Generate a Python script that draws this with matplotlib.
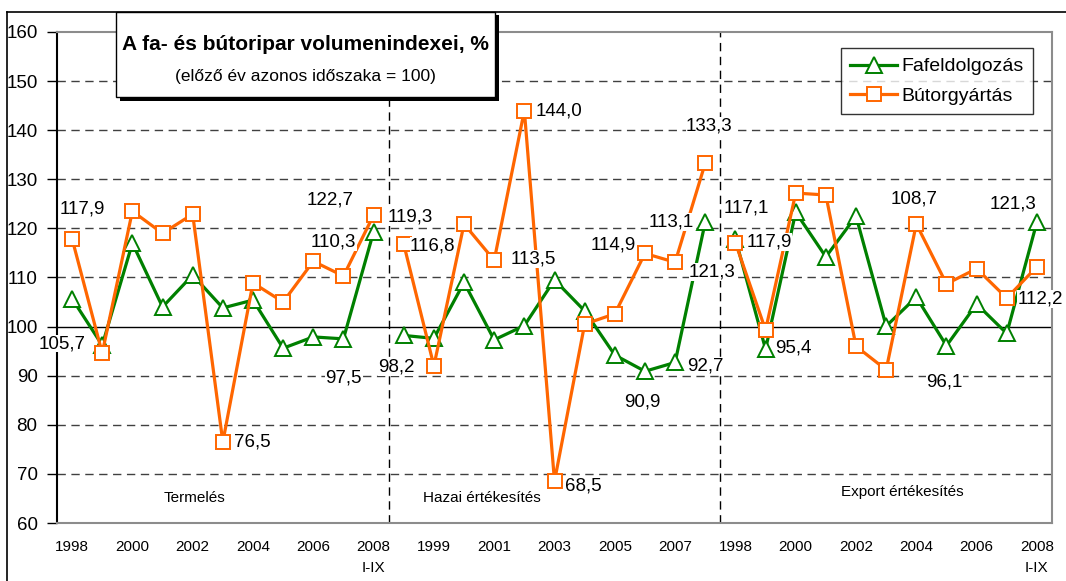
import matplotlib
matplotlib.use('Agg')
import matplotlib.pyplot as plt
from matplotlib.patches import Rectangle

plt.rcParams['font.family'] = ['Liberation Sans', 'DejaVu Sans']

# Data: three blocks (Termelés, Hazai, Export), 1998 .. 2008 I-IX each
fafeld_termeles = [105.7, 96.2, 117.0, 104.0, 110.5, 103.8, 105.4, 95.6, 97.9, 97.5, 119.3]
butor_termeles = [117.9, 94.6, 123.5, 119.0, 122.9, 76.5, 108.9, 105.0, 113.3, 110.3, 122.7]
fafeld_hazai = [98.2, 97.6, 109.0, 97.3, 100.2, 109.5, 103.2, 94.2, 90.9, 92.7, 121.3]
butor_hazai = [116.8, 92.0, 120.9, 113.5, 144.0, 68.5, 100.5, 102.6, 114.9, 113.1, 133.3]
fafeld_export = [117.9, 95.4, 123.3, 114.2, 122.5, 100.1, 106.0, 96.1, 104.6, 98.6, 121.3]
butor_export = [117.1, 99.3, 127.2, 126.8, 96.0, 91.2, 120.9, 108.7, 111.8, 105.8, 112.2]

group_names = ['Termelés', 'Hazai értékesítés', 'Export értékesítés']
tick_labels = ['1998', '2000', '2002', '2004', '2006', '2008\nI-IX',
               '1999', '2001', '2003', '2005', '2007',
               '1998', '2000', '2002', '2004', '2006', '2008\nI-IX']

green = '#008000'
orange = '#FF6600'

fafeld = fafeld_termeles + fafeld_hazai + fafeld_export
butor = butor_termeles + butor_hazai + butor_export
n = len(fafeld_termeles)

fig = plt.figure(figsize=(10.66, 5.81), dpi=100)
ax = fig.add_axes([57 / 1066, 58 / 581, 995 / 1066, 491 / 581])

# outer frame of the chart
fig.add_artist(plt.Line2D([7 / 1066, 7 / 1066], [0, 1 - 12 / 581], color='black', lw=1.2))
fig.add_artist(plt.Line2D([7 / 1066, 1], [1 - 12 / 581, 1 - 12 / 581], color='black', lw=1.2))

for g in range(3):
    xs = list(range(g * n, g * n + n))
    lf, = ax.plot(xs, fafeld[g * n:(g + 1) * n], color=green, lw=2.3, marker='^',
                  markersize=11, markerfacecolor='white', markeredgecolor=green,
                  markeredgewidth=1.4, zorder=3)
    lb, = ax.plot(xs, butor[g * n:(g + 1) * n], color=orange, lw=2.3, marker='s',
                  markersize=10, markerfacecolor='white', markeredgecolor=orange,
                  markeredgewidth=1.4, zorder=4)
    if g == 0:
        lf.set_label('Fafeldolgozás')
        lb.set_label('Bútorgyártás')

# data labels: (series, index, dx px, dy px downwards)
labels = [
    ('b', 0, 10, -30), ('f', 0, -10, 45), ('b', 5, 29, 0), ('b', 10, -43, -15),
    ('b', 9, -10, -34), ('f', 9, 0, 39), ('f', 10, 37, -15),
    ('f', 11, -7, 32), ('b', 11, 29, 2), ('b', 15, 35, 0), ('b', 14, 39, -1),
    ('b', 16, 29, 5), ('f', 19, -3, 31), ('f', 20, 30, 4), ('b', 19, -32, -8),
    ('b', 20, -4, -40), ('f', 21, 7, 50), ('b', 21, 4, -37),
    ('b', 22, 11, -35), ('f', 22, 34, 3), ('f', 23, 28, -1), ('b', 29, -32, -85),
    ('f', 29, -2, 36), ('f', 32, -24, -18), ('b', 32, 3, 32),
]
for s, i, dx, dy in labels:
    v = fafeld[i] if s == 'f' else butor[i]
    ax.annotate(f'{v:.1f}'.replace('.', ','), (i, v), xytext=(dx, -dy),
                textcoords='offset pixels', ha='center', va='center', fontsize=13.5,
                bbox=dict(facecolor='white', edgecolor='none', pad=0.3),
                zorder=6, annotation_clip=False)

# group names
for gx, gy, name in zip([4.05, 13.6, 27.55], [65.1, 65.1, 66.3], group_names):
    ax.text(gx, gy, name, ha='center', va='center', fontsize=11, zorder=5)

ax.set_xlim(-0.5, 3 * n - 0.5)
ax.set_ylim(60, 160)
ax.set_yticks(range(60, 161, 10))
ax.set_xticks(list(range(0, n, 2)) + list(range(n + 1, 2 * n, 2)) + list(range(2 * n, 3 * n, 2)))
ax.set_xticklabels(tick_labels, fontsize=11, linespacing=1.7)
ax.tick_params(axis='x', length=0, pad=12)
ax.tick_params(axis='y', length=7, width=1, direction='out', labelsize=13.5, pad=7)

for yv in [70, 80, 90, 110, 120, 130, 140, 150]:
    ax.axhline(yv, color='#404040', lw=1, ls=(0, (6, 4)), zorder=1)
ax.axhline(100, color='black', lw=1, zorder=1)
for xv in [n - 0.5, 2 * n - 0.5]:
    ax.axvline(xv, color='black', lw=1, ls=(0, (6, 4)), zorder=1)

ax.spines['left'].set_color('black')
ax.spines['left'].set_linewidth(1.5)
for sp in ['top', 'right', 'bottom']:
    ax.spines[sp].set_color('#8c8c8c')
    ax.spines[sp].set_linewidth(1.5)

leg = ax.legend(loc='upper right', bbox_to_anchor=(1033 / 1066, 1 - 48 / 581),
                bbox_transform=fig.transFigure, fontsize=14, frameon=True,
                fancybox=False, edgecolor='black', handlelength=2.4,
                handletextpad=0.2, borderpad=0.5, labelspacing=0.6, borderaxespad=0)
leg.get_frame().set_linewidth(1)
leg.set_zorder(7)

# title box with shadow
fig.add_artist(Rectangle((120 / 1066, 1 - 101 / 581), 379 / 1066, 86 / 581,
                         transform=fig.transFigure, facecolor='black', edgecolor='none', zorder=8))
fig.add_artist(Rectangle((116 / 1066, 1 - 97 / 581), 379 / 1066, 85 / 581,
                         transform=fig.transFigure, facecolor='white', edgecolor='black',
                         lw=1, zorder=9))
fig.text(305 / 1066, 1 - 45 / 581, 'A fa- és bútoripar volumenindexei, %', ha='center',
         va='center', fontsize=15, fontweight='bold', zorder=10)
fig.text(305 / 1066, 1 - 76 / 581, '(előző év azonos időszaka = 100)', ha='center',
         va='center', fontsize=12.5, zorder=10)

fig.savefig('out.png', dpi=100)
